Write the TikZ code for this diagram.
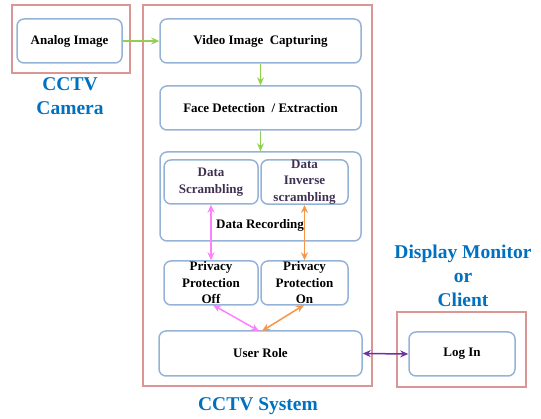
\documentclass[tikz,border=0pt]{standalone}
\usepackage{fontspec}
\setmainfont{Liberation Serif}
\usetikzlibrary{arrows.meta}
\definecolor{boxblue}{RGB}{149,179,215}
\definecolor{boxred}{RGB}{217,150,148}
\definecolor{arrgreen}{RGB}{146,208,80}
\definecolor{arrpink}{RGB}{255,128,255}
\definecolor{arrorange}{RGB}{247,150,70}
\definecolor{arrpurple}{RGB}{112,48,160}
\definecolor{lblblue}{RGB}{0,112,192}
\definecolor{darktxt}{RGB}{64,49,82}
\begin{document}
\begin{tikzpicture}[x=1pt,y=-1pt,
  blk/.style={draw=boxblue,line width=1.5pt,rounded corners=7pt,fill=white,
    inner sep=0pt,align=center,font=\fontsize{13}{16.5}\selectfont\bfseries},
  grp/.style={draw=boxred,line width=1.5pt,inner sep=0pt},
  bigl/.style={text=lblblue,font=\fontsize{19.5}{24}\selectfont\bfseries,align=center},
  ga/.style={draw=arrgreen,line width=1.5pt,-{Stealth[length=8pt,width=7pt]}},
  dbl/.style={line width=1.5pt,{Stealth[length=8pt,width=7pt]}-{Stealth[length=8pt,width=7pt]}}
]
\useasboundingbox (0,0) rectangle (541,419);
% red group boxes
\node[grp,minimum width=118pt,minimum height=68pt] (camgrp) at (71,39) {};
\node[grp,minimum width=229pt,minimum height=381pt] (sysgrp) at (257.5,195.5) {};
\node[grp,minimum width=129pt,minimum height=75pt] (cligrp) at (461.5,349.5) {};
% blocks
\node[blk,minimum width=105pt,minimum height=44pt] (analog) at (69.5,41) {Analog Image};
\node[blk,minimum width=201pt,minimum height=44pt] (video) at (260.5,41) {Video Image\ \ Capturing};
\node[blk,minimum width=201pt,minimum height=44pt] (face) at (260.5,108) {Face Detection\ \ /\ Extraction};
\node[blk,minimum width=201pt,minimum height=89pt] (rec) at (260.5,196.5) {};
\node[font=\fontsize{13}{16}\selectfont\bfseries] (reclbl) at (260,225) {Data Recording};
\node[blk,text=darktxt,minimum width=94pt,minimum height=44pt] (scr) at (211,182) {Data\\Scrambling};
\node[blk,text=darktxt,minimum width=87pt,minimum height=44pt] (inv) at (304.5,182) {Data\\Inverse\\scrambling};
\node[blk,minimum width=94pt,minimum height=44pt] (off) at (211,283) {Privacy\\Protection\\Off};
\node[blk,minimum width=87pt,minimum height=44pt] (on) at (304.5,283) {Privacy\\Protection\\On};
\node[blk,minimum width=203pt,minimum height=45pt] (user) at (260.5,353.5) {User Role};
\node[blk,minimum width=106pt,minimum height=44pt] (login) at (462,354) {Log In};
% labels
\node[bigl] (camlbl) at (70,96) {CCTV\\Camera};
\node[bigl] (clilbl) at (463,276) {Display Monitor\\or\\Client};
\node[bigl] (syslbl) at (258,406) {CCTV System};
% arrows
\draw[ga] (analog.east) -- (video.west);
\draw[ga] (video.south) -- (face.north);
\draw[ga] (face.south) -- (rec.north);
\draw[dbl,draw=arrpink] (scr.south) -- (off.north);
\draw[dbl,draw=arrorange] (inv.south) -- (on.north);
\coordinate (offb) at (213,305);
\coordinate (onb) at (304,305);
\coordinate (uta) at (259,331);
\coordinate (utb) at (262,331);
\draw[dbl,draw=arrpink] (offb) -- (uta);
\draw[dbl,draw=arrorange] (onb) -- (utb);
\draw[dbl,draw=arrpurple] (user.east) -- (login.west);
\end{tikzpicture}
\end{document}
